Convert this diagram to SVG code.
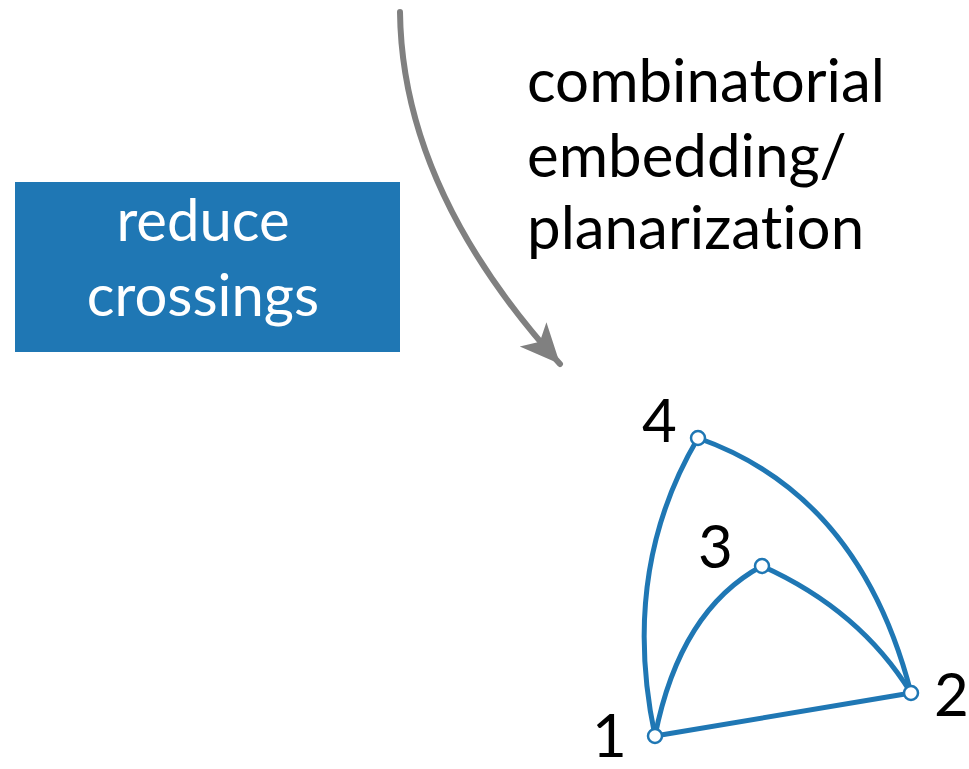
<svg xmlns="http://www.w3.org/2000/svg" width="969" height="769" viewBox="0 0 969 769">
<style>
.t{font-family:Lato,"Open Sans",sans-serif;font-size:60px;fill:#000;font-variant-ligatures:none}
.w{font-family:Lato,"Open Sans",sans-serif;font-size:58px;fill:#fff;text-anchor:middle;font-variant-ligatures:none}
.e{fill:none;stroke:#1f77b4;stroke-width:5;stroke-linecap:round}
.n{fill:#fff;stroke:#1f77b4;stroke-width:2.5}
</style>
<defs>
<marker id="ah" markerUnits="userSpaceOnUse" markerWidth="50" markerHeight="50" refX="40" refY="20" orient="auto" viewBox="0 0 50 40">
<path d="M0,2 L40,20 L0,38 L10,20 Z" fill="#808080"/>
</marker>
</defs>
<rect x="0" y="0" width="969" height="769" fill="#fff"/>
<g id="box">
<rect x="15" y="182" width="385" height="170" fill="#1f77b4"/>
<text class="w" x="203" y="241">reduce</text>
<text class="w" x="203" y="316">crossings</text>
</g>
<g id="label">
<text class="t" x="527" y="102">combinatorial</text>
<text class="t" x="527" y="177">embedding/</text>
<text class="t" x="527" y="249">planarization</text>
</g>
<g id="connectors">
<path d="M400,12 Q402,190 560,364" fill="none" stroke="#808080" stroke-width="6" stroke-linecap="round" marker-end="url(#ah)"/>
<path class="e" d="M698,438 Q620,570 655,736"/>
<path class="e" d="M698,438 Q860,495 911,693"/>
<path class="e" d="M762,566 Q680,610 655,736"/>
<path class="e" d="M762,566 Q860,610 911,693"/>
<path class="e" d="M655,736 L911,693"/>
</g>
<g id="n4"><circle class="n" cx="698" cy="438" r="7"/><text class="t" x="642" y="442">4</text></g>
<g id="n3"><circle class="n" cx="762" cy="566" r="7"/><text class="t" x="698" y="568">3</text></g>
<g id="n2"><circle class="n" cx="911" cy="693" r="7"/><text class="t" x="934" y="716">2</text></g>
<g id="n1"><circle class="n" cx="655" cy="736" r="7"/><text class="t" x="592" y="757">1</text></g>
</svg>
